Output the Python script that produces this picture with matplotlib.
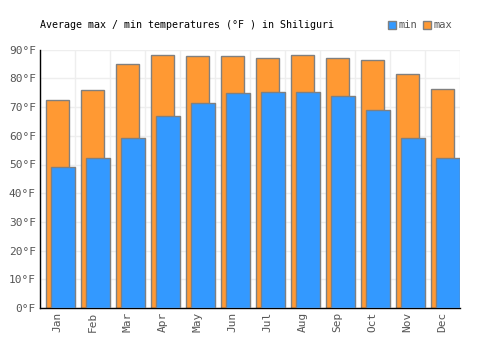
import matplotlib
matplotlib.use("Agg")
import matplotlib.pyplot as plt
import numpy as np

months = ["Jan", "Feb", "Mar", "Apr", "May", "Jun", "Jul", "Aug", "Sep", "Oct", "Nov", "Dec"]
t_max = [72.5, 76.0, 85.0, 88.3, 87.8, 87.8, 87.1, 88.3, 87.1, 86.4, 81.5, 76.3]
t_min = [49.2, 52.4, 59.3, 67.0, 71.6, 74.8, 75.1, 75.4, 73.7, 69.1, 59.4, 52.4]
yticks = [0, 10, 20, 30, 40, 50, 60, 70, 80, 90]

plt.rcParams['font.family'] = ['DejaVu Sans Mono']

fig = plt.figure(figsize=(5, 3.5), dpi=100)
ax = fig.add_axes([0.08, 0.12, 0.84, 0.738])

x = np.arange(len(months))
orange = "#ff9933"
blue = "#3399ff"
edge = "#808080"

ax.bar(x + 0.171, t_max, width=0.67, align='edge', color=orange, edgecolor=edge, linewidth=1, zorder=2, label="max")
ax.bar(x + 0.314, t_min, width=0.686, align='edge', color=blue, edgecolor=edge, linewidth=1, zorder=3, label="min")

ax.set_xlim(0, 12)
ax.set_ylim(0, 90)
ax.set_xticks(x + 0.5)
ax.set_xticklabels(months, rotation=90, fontsize=8, color="#555555")
ax.set_yticks(yticks)
ax.set_yticklabels([f"{v}°F" for v in yticks], fontsize=8, color="#555555")
ax.tick_params(length=0, pad=3)

ax.set_xticks(np.arange(0, 13), minor=True)
ax.tick_params(which='minor', length=0)
ax.grid(True, which='minor', axis='x', color="#eeeeee", linewidth=1, zorder=0)
ax.grid(True, which='major', axis='y', color="#eeeeee", linewidth=1, zorder=0)
ax.set_axisbelow(True)

for s in ['top', 'right']:
    ax.spines[s].set_visible(False)
ax.spines['left'].set_color("black")
ax.spines['bottom'].set_color("black")
ax.spines['left'].set_linewidth(1)
ax.spines['bottom'].set_linewidth(1)

fig.text(0.08, 0.928, "Average max / min temperatures (°F ) in Shiliguri", fontsize=7.2, color="black", va='center', ha='left')

handles, labels = ax.get_legend_handles_labels()
leg = fig.legend(handles[::-1], labels[::-1], loc='center right', bbox_to_anchor=(0.915, 0.928), ncol=2,
                 frameon=False, fontsize=7.5, handlelength=0.8, handleheight=0.8, handletextpad=0.2,
                 columnspacing=0.6, borderpad=0)
for t in leg.get_texts():
    t.set_color("#555555")

fig.savefig("out.png", dpi=100)
